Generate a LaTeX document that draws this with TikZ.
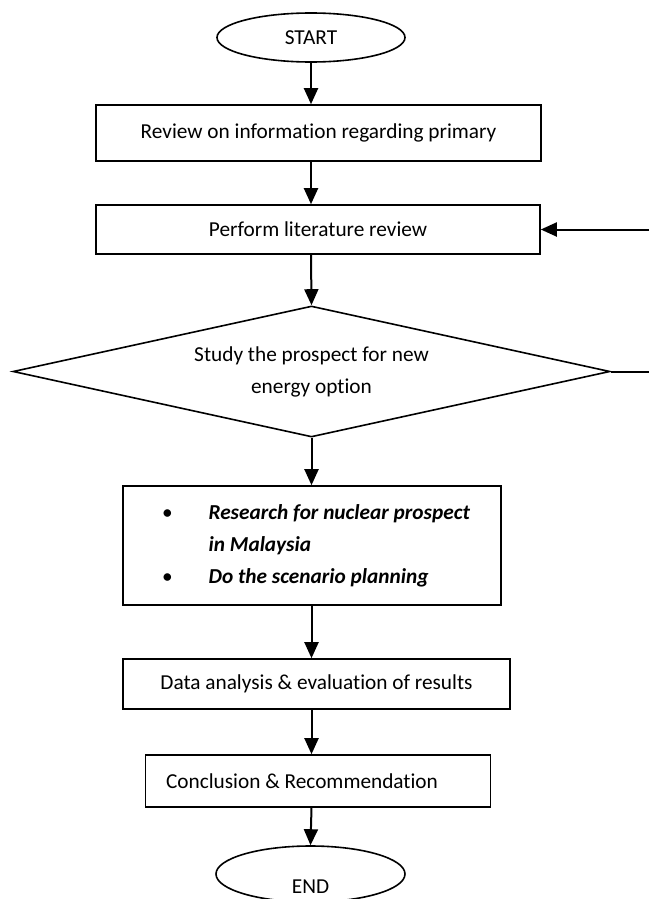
\documentclass[tikz,border=0pt]{standalone}
\usepackage{fontspec}
\setmainfont{Carlito}[Ligatures=NoCommon]
\usetikzlibrary{shapes.geometric,arrows.meta}
\begin{document}
\begin{tikzpicture}[x=1pt,y=-1pt,
  every node/.style={font=\fontsize{21.3}{32}\selectfont},
  box/.style={draw, line width=1.6pt, rectangle, inner sep=0pt, align=center},
  term/.style={draw, line width=1.6pt, ellipse, inner sep=0pt},
  dec/.style={draw, line width=1.6pt, diamond, inner sep=0pt, shape aspect=4.5, align=center},
  arr/.style={line width=2pt, -{Triangle[length=16pt,width=14pt]}},
  ln/.style={line width=2pt}]
\useasboundingbox (0,0) rectangle (649,899);
\node[term, minimum width=188, minimum height=49] (start) at (311,37.5) {START};
\node[box, minimum width=445, minimum height=56] (b1) at (318.5,133) {Review on information regarding primary};
\node[box, minimum width=444, minimum height=49] (b2) at (318,229.5) {Perform literature review};
\node[dec, minimum width=597, minimum height=131] (d) at (311.5,371.5) {Study the prospect for new\\energy option};
\node[box, minimum width=378, minimum height=119] (b3) at (312,545.5)
  {\hspace*{8pt}\begin{tabular}{@{}l@{\hspace{36pt}}l@{}}
   \textbullet & \bfseries\itshape Research for nuclear prospect\\
   & \bfseries\itshape in Malaysia\\
   \textbullet & \bfseries\itshape Do the scenario planning
   \end{tabular}};
\node[box, minimum width=387, minimum height=50] (b4) at (316.5,684) {Data analysis \& evaluation of results};
\node[box, minimum width=345, minimum height=52] (b5) at (318,781) {\hspace*{-32pt}Conclusion \& Recommendation};
\node[term, minimum width=189, minimum height=56] (end) at (310.5,874) {\raisebox{-19pt}[0pt][0pt]{END}};
\coordinate (fbR) at (649,371.5);
\coordinate (fbT) at (649,229.5);
\draw[arr] (start.south) -- (start.south |- b1.north);
\draw[arr] (start.south |- b1.south) -- (start.south |- b2.north);
\draw[arr] (start.south |- b2.south) -- (d.north);
\draw[arr] (d.south) -- (d.south |- b3.north);
\draw[arr] (d.south |- b3.south) -- (d.south |- b4.north);
\draw[arr] (d.south |- b4.south) -- (d.south |- b5.north);
\draw[arr] (d.south |- b5.south) -- (end.north);
\draw[ln] (d.east) -- (fbR);
\draw[arr] (fbT) -- (b2.east);
\end{tikzpicture}
\end{document}
